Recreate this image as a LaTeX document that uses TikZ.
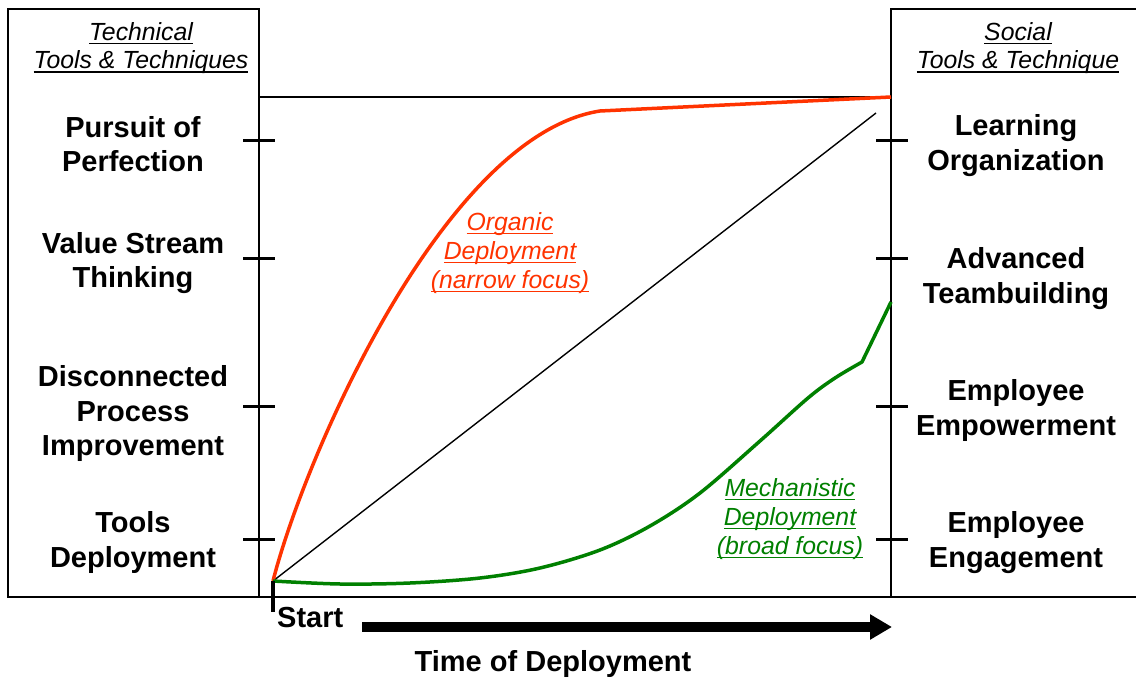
\documentclass[tikz,border=0pt]{standalone}
\usepackage{fontspec}
\setmainfont{Liberation Sans}
\usetikzlibrary{arrows.meta}
% underline drawn as a rule just below the baseline
\newcommand{\ulx}[1]{\leavevmode\setbox0\hbox{#1}\rlap{\rule[-4pt]{\wd0}{1.6pt}}\box0}
\definecolor{organic}{RGB}{255,51,0}
\definecolor{mech}{RGB}{0,128,0}

\begin{document}
\begin{tikzpicture}[x=1pt,y=-1pt,
  level/.style={font=\fontsize{29}{34.5}\selectfont\bfseries, align=center, inner sep=0pt},
  head/.style={font=\fontsize{24.8}{28.5}\selectfont\itshape, align=center, inner sep=0pt},
  curvelabel/.style={font=\fontsize{24.8}{29}\selectfont\itshape, align=center, inner sep=0pt},
  tickmark/.style={line width=3pt},
  frame/.style={line width=2pt},
  thin/.style={line width=1.4pt}]
\useasboundingbox (0,0) rectangle (1136,679);
\fill[white] (0,0) rectangle (1136,679);

% side panels and base line
\draw[frame] (8,9) rectangle (259,597);
\draw[frame] (891,9) rectangle (1150,597);
\draw[frame] (259,597) -- (891,597);
\draw[thin] (259,97) -- (891,97);

% panel headings
\node[head] (techhead) at (141,48) {\ulx{Technical}\\\ulx{Tools \& Techniques}};
\node[head] (sochead) at (1018,48) {\ulx{Social}\\\ulx{Tools \& Technique}};

% technical levels
\node[level] (t4) at (133,144) {Pursuit of\\Perfection};
\node[level] (t3) at (133,263) {Value Stream\\Thinking};
\node[level] (t2) at (133,414) {Disconnected\\Process\\Improvement};
\node[level] (t1) at (133,542.5) {Tools\\Deployment};

% social levels
\node[level] (s4) at (1016,145.5) {Learning\\Organization};
\node[level] (s3) at (1016,278.5) {Advanced\\Teambuilding};
\node[level] (s2) at (1016,410.5) {Employee\\Empowerment};
\node[level] (s1) at (1016,542.5) {Employee\\Engagement};

% scale ticks
\foreach \y in {141,259,406,539} {
  \draw[tickmark] (243,\y) -- (275,\y);
  \draw[tickmark] (876,\y) -- (908,\y);
}

% curves
\coordinate (O) at (273,581);
\coordinate (bend) at (600,111);
\coordinate (redend) at (891,97);
\coordinate (diagend) at (876,113);
\coordinate (kink) at (862,362);
\coordinate (greenend) at (891,302);

\draw[thin] (O) -- (diagend);
\draw[organic, line width=3.5pt, line join=round]
  (O) .. controls (305,455) and (445,135) .. (bend) -- (redend);
\draw[mech, line width=3.5pt, line join=round]
  plot[smooth, tension=0.55] coordinates {(273,581) (340,584) (410,583) (480,578) (540,568) (600,550) (650,526) (700,493) (760,441) (808,398) (835,378) (862,362)}
  -- (greenend);

\node[curvelabel, text=organic] (orglab) at (510,253) {\ulx{Organic}\\\ulx{Deployment}\\\ulx{(narrow focus)}};
\node[curvelabel, text=mech] (mechlab) at (790,519) {\ulx{Mechanistic}\\\ulx{Deployment}\\\ulx{(broad focus)}};

% time axis
\draw[line width=4pt] (O) -- (273,612);
\node[level, anchor=west] (start) at (277,618) {Start};
\coordinate (tail) at (362,627);
\coordinate (head) at (892,627);
\draw[line width=10pt, -{Triangle[length=22pt,width=24pt]}] (tail) -- (head);
\node[level] (timelab) at (553,664) {Time of Deployment};
\end{tikzpicture}
\end{document}
